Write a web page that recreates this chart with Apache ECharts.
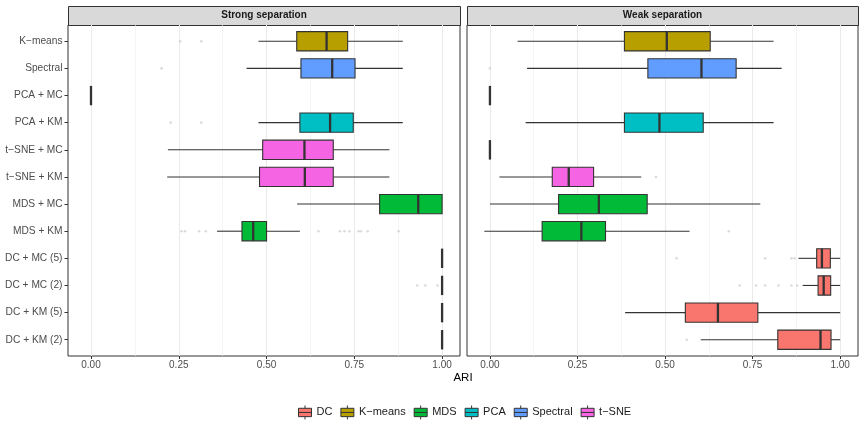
<!DOCTYPE html>
<html>
<head>
<meta charset="utf-8">
<script src="https://cdn.jsdelivr.net/npm/echarts@6/dist/echarts.min.js"></script>
<style>
  html, body { margin: 0; padding: 0; background: #fff; }
  #main { width: 865px; height: 426px; }
</style>
</head>
<body>
<div id="main"></div>
<script>
// rows from top to bottom
const categories = [
  "K\u2212means", "Spectral", "PCA + MC", "PCA + KM", "t\u2212SNE + MC", "t\u2212SNE + KM",
  "MDS + MC", "MDS + KM", "DC + MC (5)", "DC + MC (2)", "DC + KM (5)", "DC + KM (2)"
];
const rowMethod = ["K\u2212means", "Spectral", "PCA", "PCA", "t\u2212SNE", "t\u2212SNE",
  "MDS", "MDS", "DC", "DC", "DC", "DC"];
const methods = ["DC", "K\u2212means", "MDS", "PCA", "Spectral", "t\u2212SNE"];
const methodColors = {
  "DC": "#F8766D", "K\u2212means": "#B79F00", "MDS": "#00BA38",
  "PCA": "#00BFC4", "Spectral": "#619CFF", "t\u2212SNE": "#F564E3"
};
const panels = ["Strong separation", "Weak separation"];
const xTicks = [0, 0.25, 0.5, 0.75, 1];
const xMinorTicks = [0.125, 0.375, 0.625, 0.875];

// [min, q1, median, q3, max] per row
const strongStats = [
  [0.477, 0.586, 0.671, 0.731, 0.888],
  [0.443, 0.598, 0.687, 0.752, 0.888],
  [0, 0, 0, 0, 0],
  [0.477, 0.595, 0.681, 0.747, 0.888],
  [0.219, 0.489, 0.608, 0.690, 0.850],
  [0.217, 0.480, 0.609, 0.690, 0.850],
  [0.587, 0.822, 0.932, 1.0, 1.0],
  [0.359, 0.430, 0.462, 0.500, 0.595],
  [1, 1, 1, 1, 1],
  [1, 1, 1, 1, 1],
  [1, 1, 1, 1, 1],
  [1, 1, 1, 1, 1]
];
const weakStats = [
  [0.079, 0.384, 0.505, 0.629, 0.810],
  [0.106, 0.451, 0.604, 0.703, 0.833],
  [0, 0, 0, 0, 0],
  [0.102, 0.384, 0.484, 0.609, 0.810],
  [0, 0, 0, 0, 0],
  [0.027, 0.178, 0.225, 0.296, 0.432],
  [0.0, 0.196, 0.311, 0.449, 0.772],
  [-0.016, 0.149, 0.261, 0.330, 0.570],
  [0.881, 0.933, 0.948, 0.972, 1.0],
  [0.893, 0.937, 0.953, 0.973, 1.0],
  [0.386, 0.558, 0.651, 0.765, 1.0],
  [0.602, 0.822, 0.944, 0.974, 1.0]
];
// [value, row]
const strongOutliers = [
  [0.254, 0], [0.314, 0], [0.201, 1], [0.227, 3], [0.314, 3],
  [0.258, 7], [0.268, 7], [0.308, 7], [0.327, 7], [0.648, 7], [0.709, 7], [0.722, 7],
  [0.736, 7], [0.762, 7], [0.769, 7], [0.788, 7], [0.876, 7],
  [0.929, 9], [0.952, 9], [0.987, 9]
];
const weakOutliers = [
  [0.0, 1], [0.474, 5], [0.682, 7],
  [0.533, 8], [0.786, 8], [0.861, 8], [0.870, 8],
  [0.713, 9], [0.760, 9], [0.786, 9], [0.824, 9], [0.861, 9], [0.877, 9],
  [0.562, 11]
];

const FONT = "Liberation Sans, Arial, sans-serif";
const BOX_WIDTH = 0.71;
const INK = "#333333";

function renderBox(params, api) {
  const row = api.value(0);
  const pMin = api.coord([api.value(1), row]);
  const pQ1 = api.coord([api.value(2), row]);
  const pMed = api.coord([api.value(3), row]);
  const pQ3 = api.coord([api.value(4), row]);
  const pMax = api.coord([api.value(5), row]);
  const h = api.size([0, BOX_WIDTH])[1];
  const y = pMed[1];
  const fill = methodColors[rowMethod[row]];
  return {
    type: "group",
    children: [
      { type: "line", shape: { x1: pMin[0], y1: y, x2: pQ1[0], y2: y }, style: { stroke: INK, lineWidth: 1.1 } },
      { type: "line", shape: { x1: pQ3[0], y1: y, x2: pMax[0], y2: y }, style: { stroke: INK, lineWidth: 1.1 } },
      { type: "rect", shape: { x: pQ1[0], y: y - h / 2, width: pQ3[0] - pQ1[0], height: h },
        style: { fill: fill, stroke: INK, lineWidth: 1.1 } },
      { type: "line", shape: { x1: pMed[0], y1: y - h / 2, x2: pMed[0], y2: y + h / 2 },
        style: { stroke: INK, lineWidth: 2.3 } }
    ]
  };
}

const chart = echarts.init(document.getElementById("main"));

const grids = [
  { left: 68, right: 405, top: 25, bottom: 70 },
  { left: 467, right: 7, top: 25, bottom: 70 }
];

const rowIdx = categories.map((c, k) => k);
const xAxes = [];
const yAxes = [];
grids.forEach((g, i) => {
  // major ticks, labels and grid lines
  xAxes.push({
    type: "value", gridIndex: i, min: -0.0655, max: 1.051, position: "bottom",
    axisLine: { show: false, onZero: false },
    axisTick: { show: true, length: 3, customValues: xTicks, lineStyle: { color: INK, width: 1 } },
    axisLabel: { customValues: xTicks, formatter: (v) => v.toFixed(2), color: "#4D4D4D",
      fontSize: 10, fontFamily: FONT, margin: 4 },
    splitLine: { show: true, lineStyle: { color: "#EBEBEB", width: 1.1 } }
  });
  yAxes.push({
    type: "value", gridIndex: i, min: -0.6, max: 11.6, inverse: true, position: "left",
    axisLine: { show: false, onZero: false },
    axisTick: { show: i === 0, length: 3.5, customValues: rowIdx, lineStyle: { color: INK, width: 1 } },
    axisLabel: { show: i === 0, customValues: rowIdx,
      formatter: (v) => categories[Math.round(v)], color: "#4D4D4D", fontSize: 10.2, fontFamily: FONT, margin: 5.5 },
    splitLine: { show: false }
  });
});
// minor grid lines
grids.forEach((g, i) => {
  xAxes.push({
    type: "value", gridIndex: i, min: -0.0655, max: 1.051, position: "top",
    axisLine: { show: false, onZero: false },
    axisTick: { show: false, customValues: xMinorTicks },
    axisLabel: { show: false, customValues: xMinorTicks },
    splitLine: { show: true, lineStyle: { color: "#EEEEEE", width: 0.6 } }
  });
});

const series = [];
[strongStats, weakStats].forEach((stats, i) => {
  series.push({
    type: "custom", name: "box" + i, xAxisIndex: i, yAxisIndex: i, z: 3,
    renderItem: renderBox,
    encode: { x: [1, 2, 3, 4, 5], y: 0 },
    data: stats.map((s, row) => [row].concat(s))
  });
});
[strongOutliers, weakOutliers].forEach((pts, i) => {
  series.push({
    type: "scatter", name: "out" + i, xAxisIndex: i, yAxisIndex: i, z: 2,
    symbolSize: 2.6, itemStyle: { color: "#D2D2D2" }, silent: true,
    data: pts
  });
});
// empty series only for the legend
methods.forEach((m) => {
  series.push({
    type: "custom", name: m, xAxisIndex: 0, yAxisIndex: 0,
    renderItem: () => null, data: [],
    itemStyle: { color: methodColors[m], borderColor: INK, borderWidth: 1 }
  });
});

const boxIcon = "path://M0,3 L14,3 L14,12 L0,12 Z M0,7.5 L14,7.5 M7,0 L7,3 M7,12 L7,15";

const graphics = [];
grids.forEach((g, i) => {
  const x0 = g.left;
  const w = 865 - g.right - g.left;
  graphics.push({
    type: "rect", left: x0, top: 6, shape: { width: w, height: 19 },
    style: { fill: "#D9D9D9", stroke: INK, lineWidth: 1 }
  });
  graphics.push({
    type: "text", x: x0 + w / 2, y: 15.5,
    style: { text: panels[i], fill: "#1A1A1A", font: "bold 10px " + FONT, align: "center", verticalAlign: "middle" }
  });
});
graphics.push({
  type: "text", x: 463, y: 378,
  style: { text: "ARI", fill: "#000", font: "11.5px " + FONT, align: "center", verticalAlign: "middle" }
});

chart.setOption({
  animation: false,
  grid: grids.map((g) => Object.assign({ show: true, borderColor: INK, borderWidth: 1, backgroundColor: "#fff" }, g)),
  xAxis: xAxes,
  yAxis: yAxes,
  legend: {
    top: 405, left: 298, padding: 0,
    itemWidth: 13, itemHeight: 15, itemGap: 8,
    textStyle: { color: "#1A1A1A", fontSize: 11, fontFamily: FONT },
    data: methods.map((m) => ({
      name: m, icon: boxIcon,
      itemStyle: { color: methodColors[m], borderColor: INK, borderWidth: 1 }
    }))
  },
  graphic: graphics,
  series: series
});
</script>
</body>
</html>
